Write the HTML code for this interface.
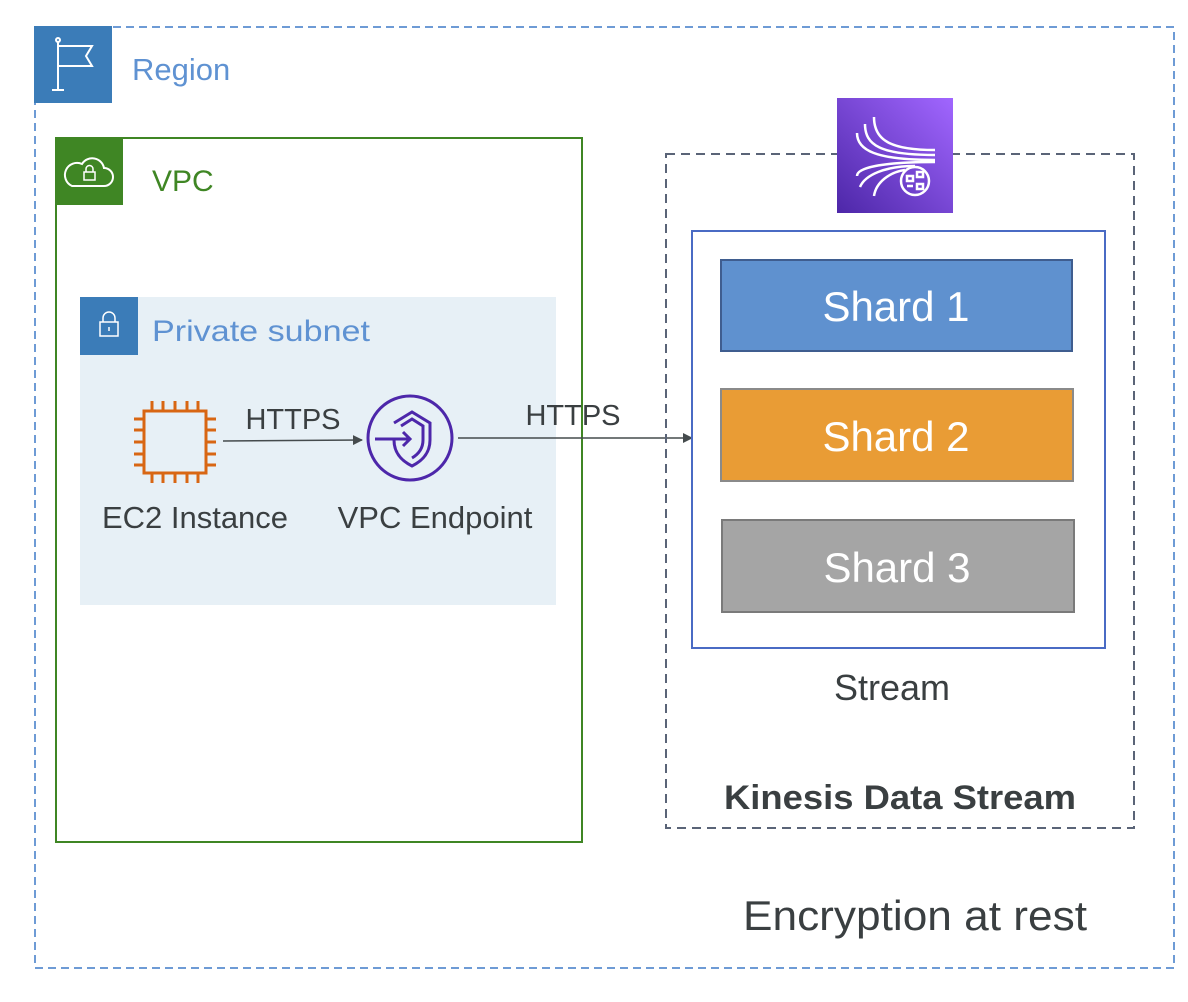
<!DOCTYPE html>
<html><head><meta charset="utf-8"><style>
html,body{margin:0;padding:0;background:#fff;width:1188px;height:1002px;overflow:hidden}
svg{display:block}
text{font-family:"Liberation Sans",sans-serif}
</style></head><body>
<svg width="1188" height="1002" viewBox="0 0 1188 1002" xmlns="http://www.w3.org/2000/svg">
<defs>
<linearGradient id="kg" x1="0" y1="1" x2="1" y2="0"><stop offset="0" stop-color="#4d27a8"/><stop offset="1" stop-color="#a166ff"/></linearGradient>
<marker id="ah" markerWidth="10" markerHeight="10" refX="9" refY="5" orient="auto" markerUnits="userSpaceOnUse"><path d="M0,0 L10,5 L0,10 z" fill="#454b4d"/></marker>
</defs>
<rect x="35" y="27" width="1139" height="941" fill="none" stroke="#6e9bd5" stroke-width="2" stroke-dasharray="8,5"/>
<rect x="34" y="26" width="78" height="77" fill="#3b7cb8"/>
<g stroke="#fff" stroke-width="2" fill="none"><line x1="58" y1="42" x2="58" y2="90"/><line x1="52" y1="90" x2="64" y2="90"/><circle cx="58" cy="40" r="2"/><path d="M58,46 H92 L86,56 L92,66 H58"/></g>
<text x="132" y="80" font-size="31" fill="#5f92d2">Region</text>
<rect x="56" y="138" width="526" height="704" fill="none" stroke="#3f8624" stroke-width="2"/>
<rect x="55" y="137" width="68" height="68" fill="#3f8624"/>
<path d="M72,186 h32 a9,9 0 0 0 0,-18 a12,12 0 0 0 -22,-4 a9,9 0 0 0 -10,22z" fill="none" stroke="#fff" stroke-width="2"/>
<rect x="84" y="172" width="11" height="8" fill="none" stroke="#fff" stroke-width="1.5"/><path d="M86,172 v-3 a3.5,3.5 0 0 1 7,0 v3" fill="none" stroke="#fff" stroke-width="1.5"/>
<text x="152" y="191" font-size="30" fill="#3f8624">VPC</text>
<rect x="80" y="297" width="476" height="308" fill="#e7f0f6"/>
<rect x="80" y="297" width="58" height="58" fill="#3b7cb8"/>
<rect x="100" y="322" width="18" height="14" fill="none" stroke="#fff" stroke-width="1.5"/><path d="M103,322 v-4 a6,6 0 0 1 12,0 v4" fill="none" stroke="#fff" stroke-width="1.5"/><line x1="109" y1="327" x2="109" y2="331" stroke="#fff" stroke-width="1.5"/>
<text x="152" y="341" font-size="30" fill="#5f92d2" textLength="218" lengthAdjust="spacingAndGlyphs">Private subnet</text>
<g stroke="#d86613" stroke-width="3" fill="none">
<rect x="144" y="411" width="62" height="62"/>
<path d="M152,411v-10M163,411v-10M175,411v-10M187,411v-10M198,411v-10 M152,473v10M163,473v10M175,473v10M187,473v10M198,473v10 M144,419h-10M144,430h-10M144,442h-10M144,454h-10M144,465h-10 M206,419h10M206,430h10M206,442h10M206,454h10M206,465h10"/>
</g>
<text x="195" y="528" font-size="31" fill="#3a3f41" text-anchor="middle">EC2 Instance</text>
<g stroke="#4d27aa" stroke-width="3" fill="none">
<circle cx="410" cy="438" r="42"/>
<path d="M394,423 L412,412 L430,423 V440 C430,455 420,462 412,466 C404,462 394,455 394,440"/>
<path d="M401,426 L412,419 L423,426 V440 C423,450 417,455 412,458"/>
<line x1="375" y1="439" x2="410" y2="439"/><path d="M403,432 L410,439 L403,446"/>
</g>
<text x="435" y="528" font-size="31" fill="#3a3f41" text-anchor="middle">VPC Endpoint</text>
<line x1="223" y1="441" x2="362" y2="440" stroke="#454b4d" stroke-width="1.5" marker-end="url(#ah)"/>
<text x="293" y="429" font-size="29" fill="#3a3f41" text-anchor="middle">HTTPS</text>
<line x1="458" y1="438" x2="692" y2="438" stroke="#454b4d" stroke-width="1.5" marker-end="url(#ah)"/>
<text x="573" y="425" font-size="29" fill="#3a3f41" text-anchor="middle">HTTPS</text>
<rect x="666" y="154" width="468" height="674" fill="none" stroke="#5a6477" stroke-width="2" stroke-dasharray="9,6"/>
<rect x="837" y="98" width="116" height="115" fill="url(#kg)"/>
<g stroke="#fff" stroke-width="2.5" fill="none">
<path d="M874,117 C874,140 890,150 935,150"/>
<path d="M865,124 C865,145 880,155 935,155"/>
<path d="M857,133 C857,150 875,160 935,160"/>
<path d="M857,176 C857,168 880,162 935,162"/>
<path d="M860,187 C865,175 885,166 915,166"/>
<path d="M874,196 C876,182 890,172 905,170"/>
<circle cx="915" cy="181" r="14"/>
<path d="M907,176h6v5h-6z M917,172h6v5h-6z M917,184h6v5h-6z M907,186h6"/>
</g>
<rect x="692" y="231" width="413" height="417" fill="none" stroke="#4a6bc4" stroke-width="2"/>
<rect x="721" y="260" width="351" height="91" fill="#5f91cf" stroke="#3f5d8f" stroke-width="2"/>
<text x="896" y="321" font-size="42" fill="#fff" text-anchor="middle">Shard 1</text>
<rect x="721" y="389" width="352" height="92" fill="#e99c35" stroke="#8a8a8a" stroke-width="2"/>
<text x="896" y="451" font-size="42" fill="#fff" text-anchor="middle">Shard 2</text>
<rect x="722" y="520" width="352" height="92" fill="#a5a5a5" stroke="#7a7a7a" stroke-width="2"/>
<text x="897" y="582" font-size="42" fill="#fff" text-anchor="middle">Shard 3</text>
<text x="892" y="700" font-size="36" fill="#3a3f41" text-anchor="middle">Stream</text>
<text x="900" y="809" font-size="34" font-weight="bold" fill="#3a3f41" text-anchor="middle" textLength="352" lengthAdjust="spacingAndGlyphs">Kinesis Data Stream</text>
<text x="915" y="930" font-size="42" fill="#3a3f41" text-anchor="middle" textLength="344" lengthAdjust="spacingAndGlyphs">Encryption at rest</text>
</svg>
</body></html>
